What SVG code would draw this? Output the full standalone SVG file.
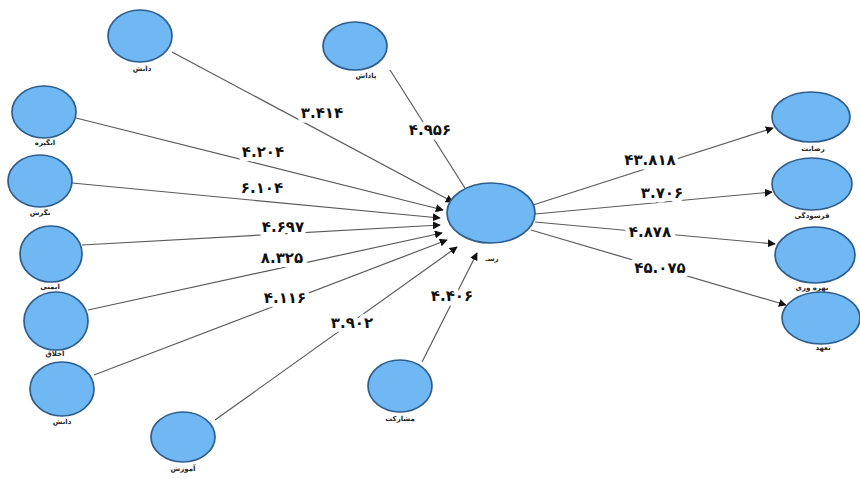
<svg xmlns="http://www.w3.org/2000/svg" width="860" height="479" viewBox="0 0 860 479">
<defs>
<marker id="ah" viewBox="0 0 10 10" refX="9" refY="5" markerWidth="8" markerHeight="8" markerUnits="userSpaceOnUse" orient="auto">
<path d="M0,0 L10,5 L0,10 z" fill="#111"/>
</marker>
<style>
.n{fill:#70b8f4;stroke:#2f5d8c;stroke-width:1.7}
.lb{font-family:"DejaVu Sans",sans-serif;font-size:7px;font-weight:bold;fill:#222;text-anchor:middle}
.c{stroke:#5a5a5a;stroke-width:1.2;fill:none;marker-end:url(#ah)}
.v{font-family:"DejaVu Sans",sans-serif;font-size:15px;font-weight:bold;fill:#111;text-anchor:middle;stroke:#fff;stroke-width:9;paint-order:stroke;stroke-linejoin:round}
</style>
</defs>
<rect width="860" height="479" fill="#fff"/>
<g id="connectors">
<line class="c" x1="172" y1="52" x2="453" y2="202"/>
<line class="c" x1="390" y1="70" x2="470" y2="196"/>
<line class="c" x1="76" y1="118" x2="443" y2="210"/>
<line class="c" x1="72" y1="183" x2="440" y2="218"/>
<line class="c" x1="82" y1="245" x2="440" y2="225"/>
<line class="c" x1="88" y1="310" x2="442" y2="233"/>
<line class="c" x1="94" y1="375" x2="447" y2="240"/>
<line class="c" x1="215" y1="420" x2="457" y2="247"/>
<line class="c" x1="422" y1="362" x2="477" y2="253"/>
<line class="c" x1="533" y1="205" x2="773" y2="128"/>
<line class="c" x1="535" y1="214" x2="772" y2="192"/>
<line class="c" x1="535" y1="222" x2="775" y2="244"/>
<line class="c" x1="531" y1="230" x2="786" y2="305"/>
<text class="v" x="322" y="118">۳.۴۱۴</text>
<text class="v" x="430" y="135">۴.۹۵۶</text>
<text class="v" x="263" y="157">۴.۲۰۴</text>
<text class="v" x="262" y="193">۶.۱۰۴</text>
<text class="v" x="283" y="232">۴.۶۹۷</text>
<text class="v" x="282" y="263">۸.۳۲۵</text>
<text class="v" x="285" y="303">۴.۱۱۶</text>
<text class="v" x="352" y="328">۳.۹۰۲</text>
<text class="v" x="452" y="301">۴.۴۰۶</text>
<text class="v" x="650" y="165">۴۳.۸۱۸</text>
<text class="v" x="662" y="198">۳.۷۰۶</text>
<text class="v" x="650" y="237">۴.۸۷۸</text>
<text class="v" x="660" y="273">۴۵.۰۷۵</text>
</g>
<g id="center"><ellipse class="n" cx="491" cy="213" rx="44" ry="30"/><text class="lb" x="492" y="261">رسـ</text></g>
<g id="n1"><ellipse class="n" cx="140" cy="36" rx="32" ry="26"/><text class="lb" x="142" y="71">دانش</text></g>
<g id="n2"><ellipse class="n" cx="355" cy="46" rx="32" ry="24"/><text class="lb" x="366" y="78">پاداش</text></g>
<g id="n3"><ellipse class="n" cx="44" cy="112" rx="32" ry="26"/><text class="lb" x="45" y="145">انگیزه</text></g>
<g id="n4"><ellipse class="n" cx="40" cy="181" rx="32" ry="26"/><text class="lb" x="40" y="215">نگرش</text></g>
<g id="n5"><ellipse class="n" cx="51" cy="254" rx="31" ry="28"/><text class="lb" x="50" y="289">ایمنی</text></g>
<g id="n6"><ellipse class="n" cx="56" cy="321" rx="32" ry="29"/><text class="lb" x="55" y="356">اخلاق</text></g>
<g id="n7"><ellipse class="n" cx="62" cy="389" rx="32" ry="27"/><text class="lb" x="62" y="424">دانش</text></g>
<g id="n8"><ellipse class="n" cx="183" cy="437" rx="32" ry="25"/><text class="lb" x="183" y="471">آموزش</text></g>
<g id="n9"><ellipse class="n" cx="400" cy="386" rx="32" ry="26"/><text class="lb" x="400" y="421">مشارکت</text></g>
<g id="r1"><ellipse class="n" cx="811" cy="117" rx="39" ry="25"/><text class="lb" x="813" y="151">رضایت</text></g>
<g id="r2"><ellipse class="n" cx="812" cy="184" rx="40" ry="26"/><text class="lb" x="812" y="218">فرسودگی</text></g>
<g id="r3"><ellipse class="n" cx="815" cy="255" rx="40" ry="28"/><text class="lb" x="812" y="290">بهره وری</text></g>
<g id="r4"><ellipse class="n" cx="821" cy="318" rx="39" ry="26"/><text class="lb" x="823" y="350">تعهد</text></g>
</svg>
